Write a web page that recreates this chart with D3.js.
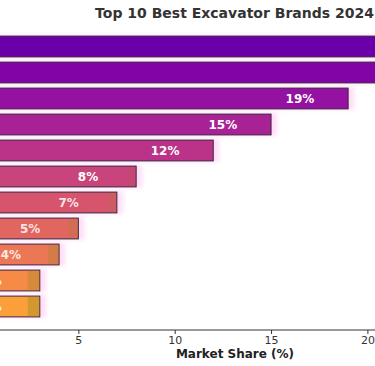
<!DOCTYPE html>
<html><head><meta charset="utf-8">
<script src="https://cdn.jsdelivr.net/npm/d3@7"></script>
<style>body{margin:0;background:#fff}svg{display:block}</style>
</head><body>
<script>
const brands = ["Caterpillar","Komatsu","Hitachi","Volvo","Liebherr","Doosan","Hyundai","JCB","Kobelco","SANY","Case"];
const shares = [26, 24, 19, 15, 12, 8, 7, 5, 4, 3, 3];
const xTicks = [5, 10, 15, 20];
const title = "Top 10 Best Excavator Brands 2024";
const xLabel = "Market Share (%)";

const W = 375, H = 366;
const svg = d3.select("body").append("svg").attr("width", W).attr("height", H);
const defs = svg.append("defs");
const f = defs.append("filter").attr("id","glow").attr("x","-20%").attr("y","-50%").attr("width","140%").attr("height","200%");
f.append("feGaussianBlur").attr("stdDeviation", 2);

const x = d3.scaleLinear().domain([0, 20]).range([-18, 367.4]);
const y = d3.scaleBand().domain(brands).range([33.5, 319.5]).paddingInner(0.2).paddingOuter(0.1);
const color = i => d3.interpolatePlasma(0.2 + i * 0.058);

const g = svg.append("g");
// glow
g.selectAll("rect.glow").data(brands).join("rect").attr("class","glow")
  .attr("x", x(0)).attr("y", d => y(d) - 1)
  .attr("width", (d,i) => x(shares[i]) - x(0) + 6)
  .attr("height", y.bandwidth() + 2)
  .attr("fill", "#ffd6f4").attr("opacity", 0.8).attr("filter","url(#glow)");
// bars
g.selectAll("rect.bar").data(brands).join("rect").attr("class","bar")
  .attr("x", x(0)).attr("y", d => y(d))
  .attr("width", (d,i) => x(shares[i]) - x(0))
  .attr("height", y.bandwidth())
  .attr("fill", (d,i) => color(i))
  .attr("stroke", "#3b2440").attr("stroke-width", 1);
// end tint
g.selectAll("rect.tint").data(brands).join("rect").attr("class","tint")
  .attr("x", (d,i) => x(shares[i]) - Math.min(12, 3 + i)).attr("y", d => y(d) + 0.5)
  .attr("width", (d,i) => Math.min(12, 3 + i) - 0.5)
  .attr("height", y.bandwidth() - 1)
  .attr("fill", "#8a8a20").attr("opacity", (d,i) => Math.max(0, (i - 4) * 0.06));
// labels (only those whose position lies inside the visible frame)
const lab = brands.map((d,i) => ({d, i})).filter(o => x(shares[o.i] - 2.5) < W);
g.selectAll("text.val").data(lab).join("text").attr("class","val")
  .attr("x", o => x(shares[o.i] - 2.5)).attr("y", o => y(o.d) + y.bandwidth()/2)
  .attr("dy", "0.36em").attr("text-anchor","middle")
  .attr("font-family","DejaVu Sans").attr("font-weight","bold").attr("font-size", 12)
  .attr("fill", "#fff").attr("fill-opacity", o => o.i > 5 ? 0.85 : 1)
  .text(o => shares[o.i] + "%");

// axis
const ax = svg.append("g").attr("transform","translate(0,330)")
  .call(d3.axisBottom(x).tickValues(xTicks).tickSize(4).tickPadding(2));
ax.select(".domain").attr("d", `M0,0H${W}`).attr("stroke","#333");
ax.selectAll(".tick line").attr("stroke","#333");
ax.selectAll(".tick text").attr("font-family","DejaVu Sans").attr("font-size", 11).attr("fill","#333");

svg.append("text").attr("x", 235).attr("y", 358).attr("text-anchor","middle")
  .attr("font-family","DejaVu Sans").attr("font-weight","bold").attr("font-size", 12).attr("fill","#222")
  .text(xLabel);
svg.append("text").attr("x", 234.5).attr("y", 18).attr("text-anchor","middle")
  .attr("font-family","DejaVu Sans").attr("font-weight","bold").attr("font-size", 14).attr("fill","#333")
  .text(title);
</script>
</body></html>
